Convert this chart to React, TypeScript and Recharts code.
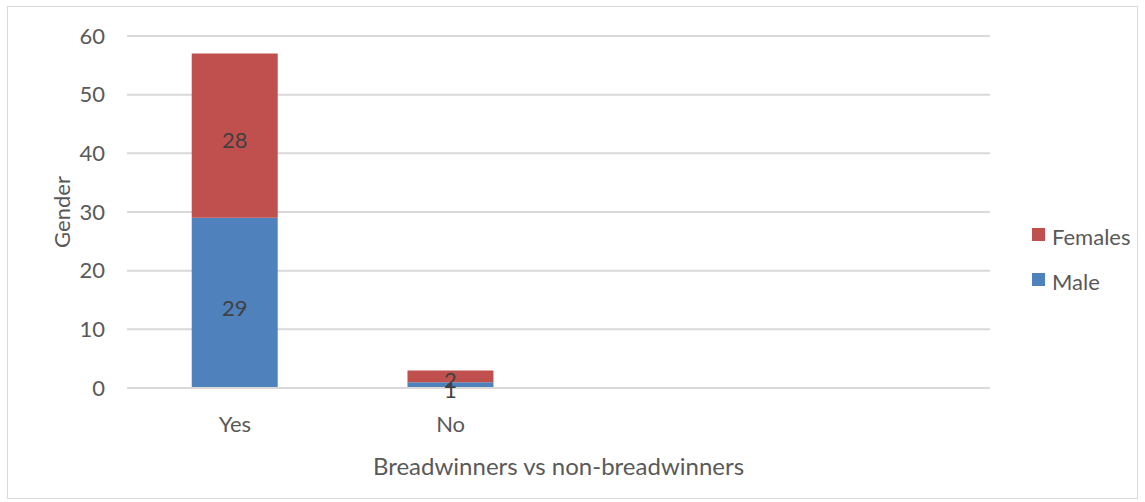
import { BarChart, Bar, XAxis, YAxis, CartesianGrid, LabelList } from 'recharts';

// breadwinner status (two trailing empty slots keep the bars narrow)
const categories = ['Yes', 'No', '', ''];
const male = [29, 1, null, null];
const females = [28, 2, null, null];
const yTicks = [0, 10, 20, 30, 40, 50, 60];

const MALE_COLOR = '#4F81BD';
const FEMALE_COLOR = '#C0504D';
const TEXT = '#595959';
const FONT = 'Lato, "Open Sans", sans-serif';

const data = categories.map((name, i) => ({
  name,
  Male: male[i],
  Females: females[i],
}));

const hideEmpty = (v: any) => (v === null || v === undefined ? '' : v);

function LegendBox() {
  const items = [
    { label: 'Females', color: FEMALE_COLOR },
    { label: 'Male', color: MALE_COLOR },
  ];
  return (
    <div
      style={{
        position: 'absolute',
        left: 1032,
        top: 214,
        fontFamily: FONT,
        fontSize: 22,
        color: TEXT,
      }}
    >
      {items.map((it) => (
        <div key={it.label} style={{ display: 'flex', alignItems: 'center', height: 45 }}>
          <span style={{ width: 13, height: 13, background: it.color, marginRight: 7, marginTop: -4 }} />
          {it.label}
        </div>
      ))}
    </div>
  );
}

export default function App() {
  return (
    <div style={{ position: 'absolute', left: 0, top: 0, width: 1145, height: 502, background: '#fff' }}>
      <div
        style={{
          position: 'absolute',
          left: 7,
          top: 6,
          width: 1131,
          height: 493,
          border: '1px solid #D9D9D9',
          boxSizing: 'border-box',
        }}
      />
      <BarChart
        width={1145}
        height={502}
        data={data}
        barCategoryGap="30%"
        margin={{ top: 36, right: 155, bottom: 0, left: 0 }}
        style={{ fontFamily: FONT }}
      >
        <CartesianGrid vertical={false} stroke="#D9D9D9" strokeWidth={2} />
        <XAxis
          dataKey="name"
          height={114}
          axisLine={{ stroke: '#D9D9D9', strokeWidth: 2 }}
          tickLine={false}
          tickSize={0}
          tickMargin={28}
          tick={{ fill: TEXT, fontSize: 22 }}
          label={{ value: 'Breadwinners vs non-breadwinners', position: 'center', dy: 21, fill: TEXT, fontSize: 24 }}
        />
        <YAxis
          width={127}
          domain={[0, 60]}
          ticks={yTicks}
          axisLine={false}
          tickLine={false}
          tickSize={0}
          tickMargin={22}
          tick={{ fill: TEXT, fontSize: 22 }}
          label={{ value: 'Gender', angle: -90, position: 'center', dx: -1, fill: TEXT, fontSize: 22 }}
        />
        <Bar dataKey="Male" stackId="a" fill={MALE_COLOR} isAnimationActive={false}>
          <LabelList dataKey="Male" position="center" formatter={hideEmpty} fill="#404040" fontSize={22} dy={5} />
        </Bar>
        <Bar dataKey="Females" stackId="a" fill={FEMALE_COLOR} isAnimationActive={false}>
          <LabelList dataKey="Females" position="center" formatter={hideEmpty} fill="#404040" fontSize={22} dy={4} />
        </Bar>
      </BarChart>
      <LegendBox />
    </div>
  );
}
